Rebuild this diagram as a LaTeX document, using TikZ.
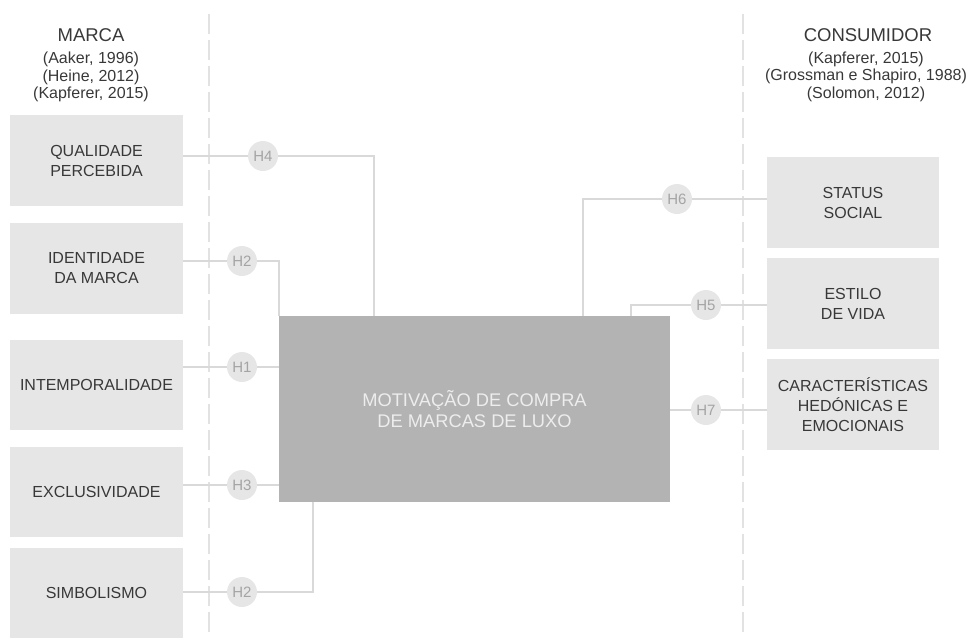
\documentclass[tikz,border=0pt]{standalone}
\usepackage{fontspec}
\setmainfont{Liberation Sans}
\usetikzlibrary{backgrounds}
\definecolor{boxgray}{HTML}{E6E6E6}
\definecolor{maingray}{HTML}{B3B3B3}
\definecolor{linegray}{HTML}{D9D9D9}
\definecolor{divgray}{HTML}{E2E2E2}
\definecolor{txtgray}{HTML}{383838}
\definecolor{hgray}{HTML}{A4A4A4}
\definecolor{circgray}{HTML}{E6E6E6}
\begin{document}
\begin{tikzpicture}[x=1pt,y=-1pt,
  sidebox/.style={fill=boxgray, draw=none, minimum width=173pt, minimum height=91pt, align=center, text=txtgray, font=\fontsize{16}{20}\selectfont, inner sep=0pt},
  mainbox/.style={fill=maingray, draw=none, minimum width=391pt, minimum height=186pt, align=center, text=white!93!black, font=\fontsize{18.3}{21}\selectfont, inner sep=0pt},
  hyp/.style={circle, fill=circgray, minimum size=30pt, inner sep=0pt, text=hgray, font=\fontsize{15}{15}\selectfont},
  conn/.style={draw=linegray, line width=1.7pt},
  divider/.style={draw=divgray, line width=1.7pt, dash pattern=on 20pt off 6pt},
  headtitle/.style={align=center, text=txtgray, font=\fontsize{18.5}{20}\selectfont, inner sep=0pt},
  headcite/.style={align=center, text=txtgray, font=\fontsize{16}{17.5}\selectfont, inner sep=0pt}]
\useasboundingbox (0,0) rectangle (970,638);

% headers
\node[headtitle] (marca) at (91,35) {MARCA};
\node[headcite] (marcacite) at (91,77) {(Aaker, 1996)\\(Heine, 2012)\\(Kapferer, 2015)};
\node[headtitle] (cons) at (868,35) {CONSUMIDOR};
\node[headcite] (conscite) at (866,76.5) {(Kapferer, 2015)\\(Grossman e Shapiro, 1988)\\(Solomon, 2012)};

% left boxes
\node[sidebox] (b1) at (96.5,160.5) {QUALIDADE\\PERCEBIDA};
\node[sidebox] (b2) at (96.5,268.5) {IDENTIDADE\\DA MARCA};
\node[sidebox, minimum height=90pt] (b3) at (96.5,385) {INTEMPORALIDADE};
\node[sidebox, minimum height=90pt] (b4) at (96.5,492) {EXCLUSIVIDADE};
\node[sidebox, minimum height=90pt] (b5) at (96.5,593) {SIMBOLISMO};

% right boxes
\node[sidebox, minimum width=172pt] (r1) at (853,202.5) {STATUS\\SOCIAL};
\node[sidebox, minimum width=172pt] (r2) at (853,303.5) {ESTILO\\DE VIDA};
\node[sidebox, minimum width=172pt] (r3) at (853,404.5) {CARACTERÍSTICAS\\HEDÓNICAS E\\EMOCIONAIS};

% main box
\node[mainbox] (main) at (474.5,409) {MOTIVAÇÃO DE COMPRA\\DE MARCAS DE LUXO};

% hypothesis circles
\node[hyp] (h4) at (263,156) {H4};
\node[hyp] (h2a) at (242,261) {H2};
\node[hyp] (h1) at (242,367) {H1};
\node[hyp] (h3) at (242,485) {H3};
\node[hyp] (h2b) at (242,592) {H2};
\node[hyp] (h6) at (677,199) {H6};
\node[hyp] (h5) at (706,305) {H5};
\node[hyp] (h7) at (706,410) {H7};

% attachment points on the main box
\path (main.north west) ++(95,0) coordinate (m4);
\path (main.south west) ++(34,0) coordinate (m2b);
\path (main.north west) ++(304,0) coordinate (m6);
\path (main.north west) ++(352,0) coordinate (m5);
\coordinate (d1top) at (209,14);
\coordinate (d1bot) at (209,638);
\coordinate (d2top) at (743,14);
\coordinate (d2bot) at (743,638);

\begin{scope}[on background layer]
  \draw[divider] (d1top) -- (d1bot);
  \draw[divider] (d2top) -- (d2bot);
  \draw[conn] (b1.east |- h4) -- (h4) -| (m4);
  \draw[conn] (b2.east |- h2a) -- (h2a) -| (main.north west);
  \draw[conn] (b3.east |- h1) -- (h1) -- (h1 -| main.west);
  \draw[conn] (b4.east |- h3) -- (h3) -- (h3 -| main.west);
  \draw[conn] (b5.east |- h2b) -- (h2b) -| (m2b);
  \draw[conn] (m6) |- (h6) -- (h6 -| r1.west);
  \draw[conn] (m5) |- (h5) -- (h5 -| r2.west);
  \draw[conn] (h7 -| main.east) -- (h7) -- (h7 -| r3.west);
\end{scope}
\end{tikzpicture}
\end{document}
